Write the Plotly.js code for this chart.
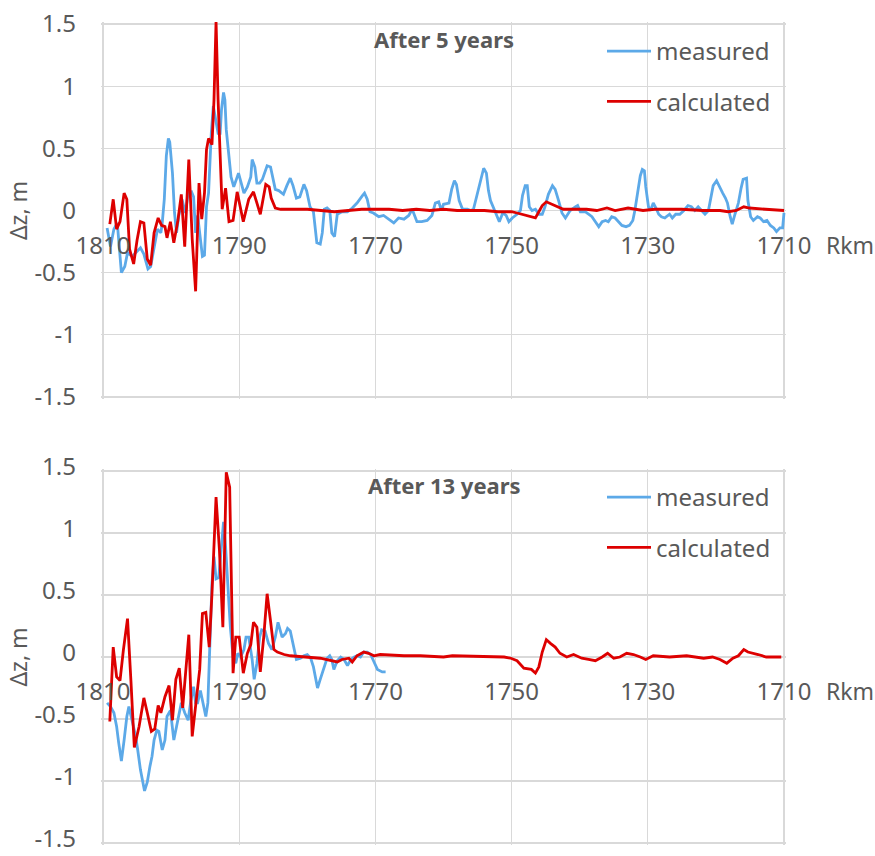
<!DOCTYPE html>
<html>
<head>
<meta charset="utf-8">
<script src="https://cdn.plot.ly/plotly-3.0.1.min.js"></script>
<style>html,body{margin:0;padding:0;background:#fff;}#chart{width:875px;height:856px;}</style>
</head>
<body>
<div id="chart"></div>
<script>
// ---------- Data ----------
const seriesNames = ["measured", "calculated"];
const panelTitles = ["After 5 years", "After 13 years"];
const xAxisTitle = "Rkm";
const yAxisTitle = "Δz, m";
const xTickVals = [1810, 1790, 1770, 1750, 1730, 1710];
const xTickText = ["1810", "1790", "1770", "1750", "1730", "1710"];
const yTickVals = [-1.5, -1, -0.5, 0, 0.5, 1, 1.5];
const yTickText = ["-1.5", "-1", "-0.5", "0", "0.5", "1", "1.5"];

// Top panel: after 5 years
const topRkmMeasured = [1809.4,1808.9,1808.4,1807.9,1807.3,1806.8,1806.4,1805.7,1805.2,1804.5,1804.0,1803.4,1803.0,1802.5,1802.0,1801.5,1801.3,1801.0,1800.7,1800.4,1800.2,1799.8,1799.5,1799.2,1798.9,1798.4,1797.9,1797.5,1797.0,1796.7,1796.4,1796.1,1795.7,1795.4,1795.1,1794.8,1794.5,1794.1,1793.8,1793.5,1793.1,1792.8,1792.6,1792.3,1792.1,1791.9,1791.5,1791.2,1790.8,1790.4,1790.1,1789.7,1789.3,1788.8,1788.3,1788.1,1787.7,1787.4,1787.0,1786.6,1785.9,1785.4,1785.0,1784.7,1784.2,1783.5,1783.0,1782.5,1782.1,1781.6,1781.1,1780.5,1780.1,1779.6,1779.1,1778.8,1778.6,1778.1,1777.8,1777.5,1777.1,1776.7,1776.4,1776.0,1775.6,1774.9,1774.1,1773.4,1772.7,1771.9,1771.6,1771.2,1770.8,1770.3,1769.5,1768.8,1768.0,1767.3,1766.6,1765.8,1765.1,1764.6,1763.9,1763.2,1762.4,1761.7,1761.2,1760.7,1760.3,1760.0,1759.2,1758.8,1758.4,1758.1,1757.7,1757.2,1756.5,1756.0,1755.6,1755.1,1754.6,1754.1,1753.7,1753.4,1753.1,1752.6,1752.1,1751.8,1751.3,1750.8,1750.4,1749.9,1749.2,1748.7,1748.4,1748.0,1747.7,1747.4,1747.0,1746.5,1746.0,1745.5,1745.1,1744.6,1744.0,1743.6,1743.1,1742.6,1742.1,1741.4,1740.6,1740.3,1739.9,1739.2,1738.7,1738.2,1737.7,1737.2,1736.7,1736.2,1735.8,1735.3,1734.8,1734.3,1733.8,1733.2,1732.7,1732.2,1731.9,1731.5,1731.1,1730.8,1730.5,1730.3,1729.9,1729.6,1729.2,1728.8,1728.4,1728.0,1727.5,1726.8,1726.4,1725.9,1725.3,1724.7,1724.1,1723.6,1723.1,1722.6,1722.1,1721.6,1721.1,1720.8,1720.4,1719.9,1719.4,1719.0,1718.6,1718.3,1717.9,1717.6,1717.2,1716.7,1716.3,1716.0,1715.5,1715.3,1714.9,1714.5,1713.9,1713.5,1713.0,1712.5,1712.0,1711.5,1711.1,1710.6,1710.2,1710.0];
const topMeasured = [-0.14,-0.29,-0.15,-0.10,-0.50,-0.45,-0.34,-0.37,-0.34,-0.30,-0.35,-0.47,-0.45,-0.29,-0.15,-0.18,-0.10,0.09,0.44,0.58,0.55,0.30,-0.02,-0.18,-0.05,0.09,-0.02,0.14,0.15,0.11,-0.18,-0.04,-0.23,-0.37,-0.36,0.03,0.14,0.62,0.84,0.73,0.62,0.62,0.81,0.95,0.89,0.65,0.44,0.27,0.19,0.25,0.30,0.22,0.14,0.19,0.27,0.41,0.35,0.22,0.22,0.25,0.36,0.35,0.25,0.17,0.16,0.13,0.20,0.26,0.20,0.10,0.11,0.21,0.16,0.03,-0.01,-0.18,-0.26,-0.27,-0.18,0.01,0.02,0.00,-0.18,-0.21,-0.03,-0.01,-0.01,0.02,0.06,0.12,0.14,0.09,-0.01,-0.02,-0.05,-0.04,-0.07,-0.10,-0.06,-0.07,-0.04,0.01,-0.09,-0.09,-0.08,-0.04,0.06,0.07,0.00,0.05,0.06,0.17,0.24,0.21,0.08,0.01,0.01,0.00,0.01,0.12,0.25,0.34,0.30,0.16,0.08,0.01,-0.05,-0.09,-0.02,-0.04,-0.09,-0.06,-0.03,0.00,0.12,0.20,0.20,0.03,0.00,0.01,-0.03,-0.03,0.03,0.13,0.20,0.17,0.08,-0.02,-0.06,0.00,0.03,0.04,-0.01,-0.01,-0.03,-0.05,-0.09,-0.13,-0.09,-0.08,-0.09,-0.05,-0.06,-0.09,-0.12,-0.13,-0.12,-0.08,0.00,0.14,0.28,0.33,0.32,0.19,0.03,0.00,0.06,0.02,-0.03,-0.05,-0.06,-0.03,-0.06,-0.03,-0.03,0.00,0.04,0.03,0.00,0.03,0.00,-0.03,0.00,0.08,0.20,0.24,0.18,0.14,0.10,0.06,-0.05,-0.11,-0.03,0.06,0.18,0.25,0.26,0.08,-0.05,-0.08,-0.05,-0.06,-0.09,-0.08,-0.12,-0.14,-0.17,-0.14,-0.14,-0.02];

const topRkmCalculated = [1809.0,1808.5,1808.0,1807.5,1806.9,1806.5,1806.1,1805.5,1805.0,1804.5,1804.0,1803.5,1803.0,1802.5,1801.9,1801.4,1800.9,1800.6,1800.1,1799.6,1799.0,1798.5,1798.0,1797.4,1796.9,1796.4,1795.9,1795.5,1795.1,1794.8,1794.5,1794.0,1793.7,1793.4,1793.1,1792.8,1792.5,1792.0,1791.5,1790.9,1790.3,1789.4,1788.6,1787.9,1786.9,1786.1,1785.6,1785.3,1784.7,1783.9,1782.0,1780.0,1778.0,1776.0,1774.0,1772.0,1770.0,1768.0,1766.0,1764.0,1762.0,1760.0,1758.0,1756.0,1754.0,1752.0,1750.0,1749.2,1748.0,1746.5,1746.0,1745.5,1744.9,1744.1,1743.1,1742.4,1739.0,1737.5,1736.0,1734.8,1732.9,1730.7,1729.0,1725.0,1722.0,1719.4,1718.2,1717.0,1715.9,1715.1,1712.7,1710.0];
const topCalculated = [-0.11,0.09,-0.15,-0.09,0.14,0.09,-0.31,-0.43,-0.24,-0.09,-0.10,-0.39,-0.44,-0.18,-0.06,-0.12,-0.13,-0.22,-0.09,-0.26,-0.08,0.13,-0.29,0.41,-0.23,-0.65,0.22,-0.07,0.14,0.49,0.58,0.53,0.89,1.52,0.89,0.44,0.01,0.18,-0.09,-0.08,0.15,-0.09,0.09,0.15,-0.03,0.21,0.19,0.10,0.02,0.01,0.01,0.01,0.00,-0.01,0.00,0.01,0.01,0.01,0.00,0.01,0.00,0.01,0.00,0.00,0.00,-0.01,-0.01,-0.02,-0.04,-0.06,-0.01,0.04,0.07,0.05,0.03,0.01,0.01,0.00,0.02,0.00,0.02,0.00,0.01,0.01,0.00,0.00,-0.01,0.00,0.03,0.02,0.01,0.00];

// Bottom panel: after 13 years
const bottomRkmMeasured = [1809.4,1808.9,1808.4,1808.0,1807.7,1807.3,1806.9,1806.5,1806.2,1805.7,1805.2,1804.9,1804.5,1803.9,1803.5,1803.1,1802.8,1802.5,1802.1,1801.8,1801.3,1800.9,1800.6,1800.1,1799.6,1799.2,1798.9,1798.5,1798.0,1797.5,1797.1,1796.7,1796.4,1796.1,1795.7,1795.3,1794.9,1794.6,1794.3,1794.0,1793.7,1793.4,1793.0,1792.6,1792.3,1792.0,1791.7,1791.3,1790.9,1790.5,1790.2,1789.8,1789.3,1789.0,1788.6,1788.1,1787.8,1787.4,1787.0,1786.7,1786.2,1785.7,1785.2,1784.7,1784.3,1784.0,1783.7,1783.2,1782.9,1782.5,1782.1,1781.6,1781.0,1780.5,1780.0,1779.5,1779.1,1778.8,1778.5,1778.1,1777.6,1777.1,1776.7,1776.4,1776.1,1775.6,1775.1,1774.6,1774.1,1773.6,1773.1,1772.7,1772.2,1771.7,1771.2,1770.7,1770.2,1769.7,1769.0,1768.5];
const bottomMeasured = [-0.37,-0.40,-0.45,-0.56,-0.69,-0.84,-0.67,-0.48,-0.40,-0.53,-0.64,-0.75,-0.91,-1.08,-1.01,-0.88,-0.80,-0.67,-0.59,-0.60,-0.75,-0.67,-0.48,-0.43,-0.67,-0.56,-0.48,-0.37,-0.45,-0.51,-0.35,-0.24,-0.37,-0.37,-0.27,-0.37,-0.48,-0.37,0.06,0.59,0.81,0.63,0.64,0.89,1.09,0.89,0.59,0.24,0.00,-0.05,0.03,0.00,0.06,0.16,0.16,-0.02,-0.18,-0.05,0.16,0.22,0.21,0.11,0.06,0.16,0.28,0.22,0.16,0.19,0.23,0.21,0.11,-0.02,-0.01,0.01,0.02,-0.01,-0.08,-0.18,-0.25,-0.18,-0.09,-0.01,0.01,-0.02,-0.10,-0.03,0.00,-0.02,-0.07,-0.02,0.00,0.01,0.00,0.04,0.04,0.02,-0.04,-0.10,-0.12,-0.12];

const bottomRkmCalculated = [1809.0,1808.5,1808.0,1807.5,1807.0,1806.4,1805.9,1805.4,1804.7,1804.0,1803.5,1802.9,1802.4,1801.9,1801.5,1800.9,1800.3,1799.8,1799.3,1798.8,1798.3,1797.8,1797.4,1796.9,1796.4,1795.8,1795.4,1794.9,1794.4,1794.0,1793.4,1792.9,1792.4,1791.9,1791.4,1790.9,1790.5,1790.0,1789.4,1788.8,1788.3,1787.9,1787.4,1786.9,1786.4,1785.9,1785.4,1784.9,1784.4,1783.4,1782.5,1780.5,1778.1,1775.6,1774.9,1773.9,1773.4,1772.7,1771.7,1771.0,1770.2,1769.3,1765.8,1763.4,1760.0,1758.7,1751.1,1750.1,1749.2,1748.2,1747.5,1747.1,1746.5,1746.0,1745.5,1744.9,1744.3,1743.6,1742.9,1741.9,1740.9,1739.7,1738.7,1737.7,1736.7,1735.9,1735.0,1734.1,1733.1,1732.1,1731.1,1730.3,1729.2,1726.8,1724.3,1721.8,1720.5,1719.4,1718.4,1717.5,1716.7,1715.9,1715.3,1714.5,1713.8,1712.6,1710.4];
const bottomCalculated = [-0.52,0.08,-0.16,-0.19,0.06,0.31,-0.19,-0.73,-0.56,-0.33,-0.45,-0.60,-0.58,-0.39,-0.45,-0.32,-0.23,-0.51,-0.18,-0.09,-0.41,-0.10,0.18,-0.64,-0.37,-0.10,0.35,0.36,0.08,0.51,1.29,0.86,0.24,1.49,1.37,-0.13,0.16,0.16,-0.13,0.03,0.10,0.28,0.24,-0.12,0.16,0.51,0.29,0.06,0.04,0.02,0.01,0.00,-0.01,-0.04,-0.02,-0.01,-0.04,0.01,0.04,0.03,0.01,0.02,0.01,0.01,0.00,0.01,0.00,-0.01,-0.03,-0.09,-0.10,-0.10,-0.13,-0.08,0.04,0.14,0.11,0.08,0.03,0.00,0.02,-0.01,-0.02,-0.03,0.00,0.03,-0.01,0.00,0.03,0.02,0.00,-0.02,0.01,0.00,0.01,-0.01,0.00,-0.02,-0.05,-0.01,0.01,0.06,0.04,0.03,0.02,0.00,0.00];

// ---------- Styling ----------
const BLUE = "#5CA9E8";
const RED = "#DD0000";
const GRID = "#D9D9D9";
const TXT = "#595959";
const FONT = "Noto Sans, Open Sans, sans-serif";
const LW = 2.8;

const traces = [
  {x: topRkmMeasured, y: topMeasured, name: seriesNames[0], type: "scatter", mode: "lines",
   line: {color: BLUE, width: LW}, xaxis: "x", yaxis: "y", legend: "legend", legendgroup: "m"},
  {x: topRkmCalculated, y: topCalculated, name: seriesNames[1], type: "scatter", mode: "lines",
   line: {color: RED, width: LW}, xaxis: "x", yaxis: "y", legend: "legend", legendgroup: "c"},
  {x: bottomRkmMeasured, y: bottomMeasured, name: seriesNames[0], type: "scatter", mode: "lines",
   line: {color: BLUE, width: LW}, xaxis: "x2", yaxis: "y2", legend: "legend2", legendgroup: "m2"},
  {x: bottomRkmCalculated, y: bottomCalculated, name: seriesNames[1], type: "scatter", mode: "lines",
   line: {color: RED, width: LW}, xaxis: "x2", yaxis: "y2", legend: "legend2", legendgroup: "c2"}
];

// Plot frame: 1810 at x=103, 1710 at x=784; top panel 1.5..-1.5 at y=24..397, bottom at y=471..843.
// The domain is padded by 2 px on every side so that the boundary grid lines are drawn.
const W = 875, H = 856;
const mL = 101, mR = 89, mT = 22, mB = 11;
const pw = W - mL - mR, ph = H - mT - mB;
const px = v => (v - mL) / pw;        // pixel x -> paper x
const py = v => 1 - (v - mT) / ph;    // pixel y -> paper y
const topDom = [py(399), 1];
const botDom = [0, py(469)];
const xPad = 2 * 100 / 681, yPadTop = 2 * 3 / 373, yPadBot = 2 * 3 / 372;

function xAxis(pos) {
  return {
    range: [1810 + xPad, 1710 - xPad], tickmode: "array", tickvals: xTickVals, ticktext: xTickText,
    anchor: "free", position: pos,
    showgrid: true, gridcolor: GRID, gridwidth: 1.3,
    zeroline: false, showline: false, ticks: "",
    ticklabelstandoff: 18, ticklabeloverflow: "allow",
    tickfont: {family: FONT, size: 24, color: TXT},
    fixedrange: true
  };
}
function yAxis(dom, anchor, pad, shift) {
  return {
    domain: dom, anchor: anchor, range: [-1.5 - pad, 1.5 + pad],
    tickmode: "array", tickvals: yTickVals, ticktext: yTickText,
    showgrid: true, gridcolor: GRID, gridwidth: 1.3, zeroline: false,
    showline: false, ticks: "",
    ticklabelstandoff: 24, ticklabelshift: shift, ticklabeloverflow: "allow",
    tickfont: {family: FONT, size: 24, color: TXT},
    title: {text: yAxisTitle, font: {family: FONT, size: 23, color: TXT}, standoff: 0},
    fixedrange: true
  };
}

const legendBase = {
  xanchor: "left", yanchor: "top", bgcolor: "rgba(0,0,0,0)",
  font: {family: FONT, size: 24, color: TXT}, traceorder: "grouped", tracegroupgap: 16,
  itemwidth: 44
};

const layout = {
  width: W, height: H,
  margin: {l: mL, r: mR, t: mT, b: mB},
  paper_bgcolor: "#ffffff", plot_bgcolor: "#ffffff",
  font: {family: FONT, color: TXT},
  showlegend: true,
  xaxis: xAxis((topDom[0] + topDom[1]) / 2),
  xaxis2: xAxis((botDom[0] + botDom[1]) / 2),
  yaxis: yAxis(topDom, "x", yPadTop, 0),
  yaxis2: yAxis(botDom, "x2", yPadBot, -4),
  legend: Object.assign({}, legendBase, {x: px(602), y: py(29)}),
  legend2: Object.assign({}, legendBase, {x: px(602), y: py(475)}),
  annotations: [
    {text: "<b>" + panelTitles[0] + "</b>", xref: "paper", yref: "paper",
     x: px(372), y: py(39), xanchor: "left", yanchor: "middle",
     showarrow: false, font: {family: FONT, size: 22, color: TXT}},
    {text: "<b>" + panelTitles[1] + "</b>", xref: "paper", yref: "paper",
     x: px(366), y: py(485), xanchor: "left", yanchor: "middle",
     showarrow: false, font: {family: FONT, size: 22, color: TXT}},
    {text: xAxisTitle, xref: "paper", yref: "y", x: px(824), y: 0,
     xanchor: "left", yanchor: "middle", yshift: -34, showarrow: false,
     font: {family: FONT, size: 23, color: TXT}},
    {text: xAxisTitle, xref: "paper", yref: "y2", x: px(824), y: 0,
     xanchor: "left", yanchor: "middle", yshift: -34, showarrow: false,
     font: {family: FONT, size: 23, color: TXT}}
  ]
};

Plotly.newPlot("chart", traces, layout, {displayModeBar: false, staticPlot: true});
</script>
</body>
</html>
